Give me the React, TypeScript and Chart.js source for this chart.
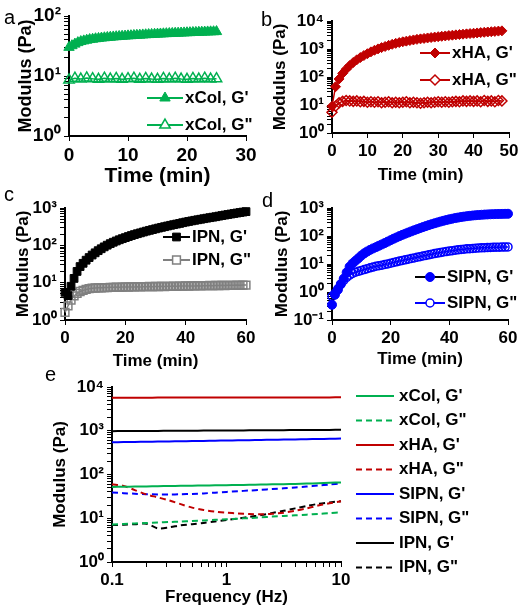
import React, { useEffect, useRef } from 'react';
import { Chart, registerables } from 'chart.js';
import { drawPoint } from 'chart.js/helpers';

Chart.register(...registerables);

const FONT = '"Liberation Sans", Arial, Helvetica, sans-serif';
const W = 527;
const H = 616;

const GREEN = '#00B050';
const RED = '#C00000';
const BLUE = '#0000FF';
const BLACK = '#000000';
const GREY = '#808080';
const NONE = 'rgba(255,255,255,0)';

// ---------- Panel a : xCol ----------
const A_T_GP = [0, 0.5, 1, 1.5, 2, 2.5, 3, 3.5, 4, 4.5, 5, 5.5, 6, 6.5, 7, 7.5, 8, 8.5, 9, 9.5, 10, 10.5, 11, 11.5, 12, 12.5, 13, 13.5, 14, 14.5, 15, 15.5, 16, 16.5, 17, 17.5, 18, 18.5, 19, 19.5, 20, 20.5, 21, 21.5, 22, 22.5, 23, 23.5, 24, 24.5, 25];
const A_GP = [30, 32, 34, 36, 37.5, 38.5, 39.5, 40.5, 41, 41.8, 42.3, 42.9, 43.4, 43.9, 44.3, 44.8, 45.2, 45.6, 46, 46.3, 46.7, 47, 47.4, 47.7, 48, 48.4, 48.7, 49, 49.3, 49.6, 49.9, 50.2, 50.5, 50.8, 51, 51.3, 51.6, 51.8, 52.1, 52.3, 52.6, 52.8, 53.1, 53.3, 53.6, 53.8, 54, 54.3, 54.5, 54.7, 55];
const A_T_GPP = [0, 1, 2, 3, 4, 5, 6, 7, 8, 9, 10, 11, 12, 13, 14, 15, 16, 17, 18, 19, 20, 21, 22, 23, 24, 25];
const A_GPP = [8.6, 9.2, 8.9, 9.3, 9.0, 8.8, 9.2, 8.9, 9.1, 8.8, 9.0, 9.2, 8.8, 9.1, 8.9, 8.8, 9.1, 8.9, 9.2, 8.9, 8.8, 9.1, 8.9, 9.2, 8.9, 9.0];
const A_X_TICKS = [0, 10, 20, 30];
const A_X_LABELS = ['0', '10', '20', '30'];
const A_Y_TICKS = [1, 10, 100];
const A_Y_LABELS = ['10⁰', '10¹', '10²'];

// ---------- Panel b : xHA ----------
const B_T = [0, 1, 2, 3, 4, 5, 6, 7, 8, 9, 10, 11, 12, 13, 14, 15, 16, 17, 18, 19, 20, 21, 22, 23, 24, 25, 26, 27, 28, 29, 30, 31, 32, 33, 34, 35, 36, 37, 38, 39, 40, 41, 42, 43, 44, 45, 46, 47, 48];
const B_GP = [9, 45, 85, 135, 190, 255, 330, 410, 495, 585, 680, 790, 900, 1010, 1120, 1230, 1350, 1470, 1590, 1700, 1810, 1910, 2010, 2110, 2210, 2300, 2390, 2480, 2570, 2660, 2750, 2840, 2930, 3020, 3110, 3200, 3290, 3380, 3470, 3560, 3650, 3750, 3850, 3950, 4050, 4150, 4250, 4350, 4450];
const B_GPP = [5.5, 9, 12, 13.5, 14.5, 14, 13.5, 14, 13, 13.5, 12.5, 13, 12.5, 13, 12, 12.5, 13, 12, 12.5, 12, 12.5, 13, 12, 12.5, 12, 11.5, 12, 12.5, 12, 12.5, 13, 12.5, 13, 12.5, 13, 13.5, 13, 14, 13.5, 14, 13.5, 14, 13, 14.5, 13.5, 14, 13, 14.5, 14];
const B_X_TICKS = [0, 10, 20, 30, 40, 50];
const B_X_LABELS = ['0', '10', '20', '30', '40', '50'];
const B_Y_TICKS = [1, 10, 100, 1000, 10000];
const B_Y_LABELS = ['10⁰', '10¹', '10²', '10³', '10⁴'];

// ---------- Panel c : IPN ----------
const C_T = [0, 1, 2, 3, 4, 5, 6, 7, 8, 9, 10, 11, 12, 13, 14, 15, 16, 17, 18, 19, 20, 21, 22, 23, 24, 25, 26, 27, 28, 29, 30, 31, 32, 33, 34, 35, 36, 37, 38, 39, 40, 41, 42, 43, 44, 45, 46, 47, 48, 49, 50, 51, 52, 53, 54, 55, 56, 57, 58, 59, 60];
const C_GP = [5.5, 4.5, 8, 13, 20, 27, 33, 40, 47, 55, 63, 72, 81, 91, 101, 111, 121, 131, 141, 151, 161, 172, 183, 194, 205, 216, 228, 240, 252, 264, 277, 290, 303, 316, 330, 344, 358, 372, 386, 404, 420, 436, 452, 468, 484, 500, 517, 534, 551, 568, 585, 606, 627, 648, 669, 690, 712, 734, 756, 778, 800];
const C_GPP = [1.6, 2.4, 3.4, 4.4, 5.2, 5.8, 6.2, 6.6, 6.9, 7.1, 7.2, 7.3, 7.3, 7.4, 7.4, 7.5, 7.5, 7.6, 7.5, 7.6, 7.7, 7.6, 7.7, 7.7, 7.8, 7.7, 7.8, 7.8, 7.9, 7.8, 7.9, 7.9, 8.0, 7.9, 8.0, 8.0, 8.1, 8.0, 8.1, 8.1, 8.2, 8.1, 8.2, 8.2, 8.3, 8.2, 8.3, 8.3, 8.4, 8.3, 8.4, 8.4, 8.5, 8.4, 8.5, 8.5, 8.5, 8.6, 8.5, 8.6, 8.6];
const C_X_TICKS = [0, 20, 40, 60];
const C_X_LABELS = ['0', '20', '40', '60'];
const C_Y_TICKS = [1, 10, 100, 1000];
const C_Y_LABELS = ['10⁰', '10¹', '10²', '10³'];

// ---------- Panel d : SIPN ----------
const D_T = [0, 1, 2, 3, 4, 5, 6, 7, 8, 9, 10, 11, 12, 13, 14, 15, 16, 17, 18, 19, 20, 21, 22, 23, 24, 25, 26, 27, 28, 29, 30, 31, 32, 33, 34, 35, 36, 37, 38, 39, 40, 41, 42, 43, 44, 45, 46, 47, 48, 49, 50, 51, 52, 53, 54, 55, 56, 57, 58, 59, 60];
const D_GP = [0.35, 0.8, 1.2, 1.9, 3.0, 5.0, 8, 10.5, 13, 16, 20, 24, 28, 32, 36, 40, 45, 50, 56, 63, 71, 80, 89, 99, 110, 121, 133, 146, 160, 175, 191, 208, 226, 245, 265, 285, 306, 328, 350, 372, 394, 415, 436, 456, 475, 493, 510, 525, 539, 552, 563, 573, 582, 590, 597, 603, 608, 612, 616, 619, 622];
const D_GPP = [0.7, 0.9, 1.3, 1.9, 2.6, 3.3, 4.0, 4.6, 5.1, 5.5, 5.9, 6.3, 6.8, 7.3, 7.8, 8.3, 8.7, 9.1, 9.6, 10.1, 10.7, 11.3, 12, 12.7, 13.4, 14.1, 14.9, 15.7, 16.5, 17.4, 18.3, 19.3, 20.3, 21.3, 22.4, 23.5, 24.6, 25.7, 26.8, 27.9, 29, 30, 31, 32, 33, 33.9, 34.7, 35.4, 36.1, 36.7, 37.3, 37.8, 38.3, 38.7, 39.1, 39.4, 39.7, 40, 40.2, 40.4, 40.6];
const D_X_TICKS = [0, 20, 40, 60];
const D_X_LABELS = ['0', '20', '40', '60'];
const D_Y_TICKS = [0.1, 1, 10, 100, 1000];
const D_Y_LABELS = ['10⁻¹', '10⁰', '10¹', '10²', '10³'];

// ---------- Panel e : frequency sweep ----------
const E_F = [0.1, 0.126, 0.158, 0.2, 0.251, 0.316, 0.398, 0.501, 0.631, 0.794, 1, 1.26, 1.58, 2, 2.51, 3.16, 3.98, 5.01, 6.31, 7.94, 10];
const E_XCOL_GP = [52, 52.5, 53, 53.5, 54, 54.5, 55, 55.5, 56, 56.5, 57, 57.6, 58.2, 58.8, 59.5, 60.2, 61, 62, 63.2, 64.5, 66];
const E_XCOL_GPP = [7.2, 7.4, 7.6, 7.8, 8.0, 8.2, 8.4, 8.7, 8.9, 9.2, 9.5, 9.8, 10.1, 10.5, 10.9, 11.3, 11.7, 12.1, 12.6, 13.1, 13.6];
const E_XHA_GP = [5700, 5700, 5710, 5710, 5720, 5720, 5730, 5730, 5740, 5740, 5750, 5750, 5760, 5760, 5770, 5770, 5780, 5780, 5790, 5790, 5800];
const E_XHA_GPP = [60, 55, 44, 35, 30, 25.5, 21, 17.5, 15.5, 14.2, 13.4, 12.9, 12.5, 12.3, 12.6, 13.4, 14.8, 16.8, 19.5, 22, 24.5];
const E_SIPN_GP = [545, 550, 555, 560, 565, 570, 575, 580, 586, 592, 598, 604, 610, 616, 622, 628, 634, 641, 648, 656, 665];
const E_SIPN_GPP = [39, 37.5, 36.3, 35.5, 35, 35, 35.3, 36, 37, 38.5, 40, 41.5, 43, 44.7, 46.5, 48.5, 50.7, 53, 55.8, 59, 62.5];
const E_IPN_GP = [980, 983, 986, 990, 993, 997, 1000, 1004, 1007, 1011, 1014, 1018, 1021, 1025, 1028, 1032, 1035, 1039, 1042, 1046, 1050];
const E_IPN_GPP = [7.0, 7.1, 7.3, 7.5, 5.9, 6.2, 6.9, 7.3, 7.8, 8.4, 9.1, 9.9, 10.7, 11.8, 13.2, 14.8, 16.8, 19, 21.3, 23, 24.5];
const E_X_TICKS = [0.1, 1, 10];
const E_X_LABELS = ['0.1', '1', '10'];
const E_Y_TICKS = [1, 10, 100, 1000, 10000];
const E_Y_LABELS = ['10⁰', '10¹', '10²', '10³', '10⁴'];

const pts = (xs: number[], ys: number[]) => xs.map((x, i) => ({ x, y: ys[i] }));

function logTicks(majors: number[]) {
  const out: number[] = [];
  majors.forEach((m, i) => {
    out.push(m);
    if (i < majors.length - 1) {
      for (let k = 2; k <= 9; k++) out.push(+(m * k).toPrecision(6));
    }
  });
  return out;
}

const insideLegend = {
  id: 'insideLegend',
  afterDraw(chart: any, _args: any, opts: any) {
    if (!opts || !opts.ys) return;
    const ctx = chart.ctx;
    chart.data.datasets.forEach((ds: any, i: number) => {
      const y = opts.ys[i];
      if (y === undefined) return;
      ctx.save();
      ctx.strokeStyle = ds.borderColor;
      ctx.lineWidth = opts.lineWidth || 2;
      ctx.setLineDash(ds.borderDash || []);
      ctx.beginPath();
      ctx.moveTo(opts.x, y);
      ctx.lineTo(opts.x + opts.w, y);
      ctx.stroke();
      ctx.restore();
      if (ds.pointRadius > 0) {
        ctx.save();
        ctx.fillStyle = ds.pointBackgroundColor === NONE ? '#ffffff' : ds.pointBackgroundColor;
        ctx.strokeStyle = ds.pointBorderColor;
        ctx.lineWidth = ds.pointBorderWidth;
        ctx.setLineDash([]);
        drawPoint(ctx, { pointStyle: ds.pointStyle, radius: ds.pointRadius, rotation: 0, borderWidth: ds.pointBorderWidth }, opts.x + opts.w / 2, y);
        ctx.restore();
      }
      ctx.save();
      ctx.fillStyle = '#000';
      ctx.font = `bold ${opts.size}px ${FONT}`;
      ctx.textBaseline = 'middle';
      ctx.textAlign = 'left';
      ctx.fillText(ds.label, opts.tx, y);
      ctx.restore();
    });
  },
};

function markerSet(label: string, data: any[], color: string, style: string, r: number, filled: boolean, lineColor?: string) {
  return {
    label,
    data,
    borderColor: lineColor || color,
    backgroundColor: color,
    borderWidth: 1.5,
    pointStyle: style,
    pointRadius: r,
    pointBorderWidth: filled ? 1 : 1.5,
    pointBackgroundColor: filled ? color : NONE,
    pointBorderColor: color,
    clip: false,
    tension: 0,
  };
}

function lineSet(label: string, data: any[], color: string, dashed: boolean) {
  return {
    label,
    data,
    borderColor: color,
    backgroundColor: color,
    borderWidth: 2,
    borderDash: dashed ? [6, 4] : [],
    pointRadius: 0,
    pointStyle: 'line',
    pointBackgroundColor: color,
    pointBorderColor: color,
    pointBorderWidth: 0,
    clip: false,
    tension: 0.3,
  };
}

type Panel = {
  area: { l: number; t: number; r: number; b: number };
  yBoxLeft: number;
  xBoxBottom: number;
  xLog: boolean;
  xMin: number;
  xMax: number;
  xTicks: number[];
  xLabels: string[];
  yMin: number;
  yMax: number;
  yTicks: number[];
  yLabels: string[];
  xTitle: string;
  yTitle: string;
  tickSize: number;
  xTitleSize: number;
  yTitleSize: number;
  datasets: any[];
  legend: any;
};

function buildConfig(p: Panel) {
  const xAll = p.xLog ? logTicks(p.xTicks) : p.xTicks.slice();
  const yAll = logTicks(p.yTicks);
  const tickFont = { family: FONT, size: p.tickSize, weight: 'bold' as const };
  const xTitleFont = { family: FONT, size: p.xTitleSize, weight: 'bold' as const };
  const yTitleFont = { family: FONT, size: p.yTitleSize, weight: 'bold' as const };
  const grid = {
    display: true,
    drawOnChartArea: false,
    drawTicks: true,
    tickLength: 5,
    color: '#000',
    lineWidth: 1,
  };
  const border = { display: true, color: '#000', width: 2 };
  return {
    type: 'line' as const,
    data: { datasets: p.datasets },
    plugins: [insideLegend],
    options: {
      animation: false,
      responsive: false,
      devicePixelRatio: 1,
      events: [],
      layout: {
        padding: {
          left: p.yBoxLeft,
          top: p.area.t,
          right: W - p.area.r,
          bottom: H - p.xBoxBottom,
        },
      },
      plugins: {
        legend: { display: false },
        tooltip: { enabled: false },
        insideLegend: p.legend,
      },
      scales: {
        x: {
          type: p.xLog ? 'logarithmic' : 'linear',
          min: p.xMin,
          max: p.xMax,
          afterBuildTicks: (s: any) => {
            s.ticks = xAll.map((v) => ({ value: v }));
          },
          afterFit: (s: any) => {
            s.height = p.xBoxBottom - p.area.b;
          },
          ticks: {
            font: tickFont,
            color: '#000',
            padding: 3,
            maxRotation: 0,
            autoSkip: false,
            callback: (v: any) => {
              const i = p.xTicks.indexOf(v);
              return i >= 0 ? p.xLabels[i] : '';
            },
          },
          grid,
          border,
          title: { display: true, text: p.xTitle, font: xTitleFont, color: '#000', padding: 0 },
        },
        y: {
          type: 'logarithmic',
          min: p.yMin,
          max: p.yMax,
          afterBuildTicks: (s: any) => {
            s.ticks = yAll.map((v) => ({ value: v }));
          },
          afterFit: (s: any) => {
            s.width = p.area.l - p.yBoxLeft;
          },
          ticks: {
            font: tickFont,
            color: '#000',
            padding: 3,
            autoSkip: false,
            callback: (v: any) => {
              const i = p.yTicks.indexOf(v);
              return i >= 0 ? p.yLabels[i] : '';
            },
          },
          grid,
          border,
          title: { display: true, text: p.yTitle, font: yTitleFont, color: '#000', padding: 0 },
        },
      },
    },
  };
}

const PANELS: Panel[] = [
  {
    area: { l: 69, t: 16, r: 246, b: 136 },
    yBoxLeft: 15,
    xBoxBottom: 189,
    xLog: false,
    xMin: 0,
    xMax: 30,
    xTicks: A_X_TICKS,
    xLabels: A_X_LABELS,
    yMin: 1,
    yMax: 100,
    yTicks: A_Y_TICKS,
    yLabels: A_Y_LABELS,
    xTitle: 'Time (min)',
    yTitle: 'Modulus (Pa)',
    tickSize: 19,
    xTitleSize: 21,
    yTitleSize: 18,
    datasets: [
      markerSet("xCol, G'", pts(A_T_GP, A_GP), GREEN, 'triangle', 6, true),
      markerSet('xCol, G"', pts(A_T_GPP, A_GPP), GREEN, 'triangle', 6, false),
    ],
    legend: { x: 147, w: 36, tx: 185, ys: [98, 125], size: 17 },
  },
  {
    area: { l: 332, t: 21, r: 509, b: 133 },
    yBoxLeft: 270,
    xBoxBottom: 186,
    xLog: false,
    xMin: 0,
    xMax: 50,
    xTicks: B_X_TICKS,
    xLabels: B_X_LABELS,
    yMin: 1,
    yMax: 10000,
    yTicks: B_Y_TICKS,
    yLabels: B_Y_LABELS,
    xTitle: 'Time (min)',
    yTitle: 'Modulus (Pa)',
    tickSize: 17,
    xTitleSize: 17,
    yTitleSize: 17,
    datasets: [
      markerSet("xHA, G'", pts(B_T, B_GP), RED, 'rectRot', 5, true),
      markerSet('xHA, G"', pts(B_T, B_GPP), RED, 'rectRot', 5, false),
    ],
    legend: { x: 420, w: 30, tx: 452, ys: [53, 80], size: 17 },
  },
  {
    area: { l: 65, t: 208, r: 246, b: 320 },
    yBoxLeft: 13,
    xBoxBottom: 372,
    xLog: false,
    xMin: 0,
    xMax: 60,
    xTicks: C_X_TICKS,
    xLabels: C_X_LABELS,
    yMin: 1,
    yMax: 1000,
    yTicks: C_Y_TICKS,
    yLabels: C_Y_LABELS,
    xTitle: 'Time (min)',
    yTitle: 'Modulus (Pa)',
    tickSize: 17,
    xTitleSize: 17,
    yTitleSize: 17,
    datasets: [
      markerSet("IPN, G'", pts(C_T, C_GP), BLACK, 'rect', 5.5, true),
      markerSet('IPN, G"', pts(C_T, C_GPP), GREY, 'rect', 5.5, false),
    ],
    legend: { x: 163, w: 27, tx: 192, ys: [237, 260], size: 17 },
  },
  {
    area: { l: 332, t: 208, r: 508, b: 320 },
    yBoxLeft: 272,
    xBoxBottom: 370,
    xLog: false,
    xMin: 0,
    xMax: 60,
    xTicks: D_X_TICKS,
    xLabels: D_X_LABELS,
    yMin: 0.1,
    yMax: 1000,
    yTicks: D_Y_TICKS,
    yLabels: D_Y_LABELS,
    xTitle: 'Time (min)',
    yTitle: 'Modulus (Pa)',
    tickSize: 17,
    xTitleSize: 17,
    yTitleSize: 17,
    datasets: [
      markerSet("SIPN, G'", pts(D_T, D_GP), BLUE, 'circle', 4.5, true, BLACK),
      markerSet('SIPN, G"', pts(D_T, D_GPP), BLUE, 'circle', 4, false),
    ],
    legend: { x: 415, w: 30, tx: 447, ys: [277, 303], size: 17 },
  },
  {
    area: { l: 112, t: 387, r: 341, b: 562 },
    yBoxLeft: 50,
    xBoxBottom: 608,
    xLog: true,
    xMin: 0.1,
    xMax: 10,
    xTicks: E_X_TICKS,
    xLabels: E_X_LABELS,
    yMin: 1,
    yMax: 10000,
    yTicks: E_Y_TICKS,
    yLabels: E_Y_LABELS,
    xTitle: 'Frequency (Hz)',
    yTitle: 'Modulus (Pa)',
    tickSize: 17,
    xTitleSize: 17,
    yTitleSize: 17,
    datasets: [
      lineSet("xCol, G'", pts(E_F, E_XCOL_GP), GREEN, false),
      lineSet('xCol, G"', pts(E_F, E_XCOL_GPP), GREEN, true),
      lineSet("xHA, G'", pts(E_F, E_XHA_GP), RED, false),
      lineSet('xHA, G"', pts(E_F, E_XHA_GPP), RED, true),
      lineSet("SIPN, G'", pts(E_F, E_SIPN_GP), BLUE, false),
      lineSet('SIPN, G"', pts(E_F, E_SIPN_GPP), BLUE, true),
      lineSet("IPN, G'", pts(E_F, E_IPN_GP), BLACK, false),
      lineSet('IPN, G"', pts(E_F, E_IPN_GPP), BLACK, true),
    ],
    legend: { x: 356, w: 38, tx: 399, ys: [396, 420.5, 445, 469.5, 494, 518.5, 543, 567.5], size: 17 },
  },
];

const LETTERS = [
  { t: 'a', x: 4, y: 7 },
  { t: 'b', x: 261, y: 9 },
  { t: 'c', x: 4, y: 184 },
  { t: 'd', x: 262, y: 190 },
  { t: 'e', x: 45, y: 364 },
];

function PanelCanvas({ p }: { p: Panel }) {
  const ref = useRef<HTMLCanvasElement | null>(null);
  useEffect(() => {
    if (!ref.current) return;
    const chart = new Chart(ref.current, buildConfig(p) as any);
    return () => chart.destroy();
  }, [p]);
  return (
    <canvas
      ref={ref}
      width={W}
      height={H}
      style={{ position: 'absolute', left: 0, top: 0, width: W, height: H }}
    />
  );
}

export default function App() {
  return (
    <div style={{ position: 'absolute', left: 0, top: 0, width: W, height: H, background: '#fff', overflow: 'hidden' }}>
      {PANELS.map((p, i) => (
        <PanelCanvas key={i} p={p} />
      ))}
      {LETTERS.map((l) => (
        <div
          key={l.t}
          style={{
            position: 'absolute',
            left: l.x,
            top: l.y,
            fontFamily: FONT,
            fontSize: 20,
            lineHeight: '20px',
            color: '#000',
          }}
        >
          {l.t}
        </div>
      ))}
    </div>
  );
}
